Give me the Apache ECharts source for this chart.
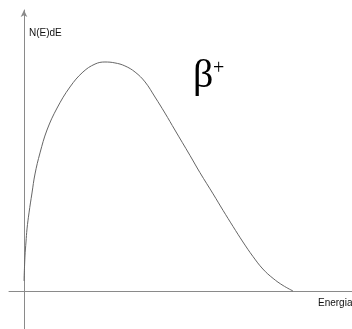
<!DOCTYPE html>
<html>
<head>
<meta charset="utf-8">
<script src="https://cdn.jsdelivr.net/npm/echarts@6/dist/echarts.min.js"></script>
<style>
  html, body { margin: 0; padding: 0; background: #fff; }
  #chart { width: 352px; height: 329px; }
</style>
</head>
<body>
<div id="chart"></div>
<script>
// Beta-plus energy spectrum: energy as a fraction of the endpoint energy,
// intensity normalised to the peak.
const energy = [0, 0.0037, 0.0074, 0.0112, 0.0186, 0.0297, 0.0409, 0.0595, 0.0855, 0.123,
  0.171, 0.219, 0.264, 0.301, 0.338, 0.375, 0.413, 0.450, 0.487, 0.524,
  0.561, 0.617, 0.654, 0.703, 0.740, 0.777, 0.814, 0.851, 0.888, 0.926, 0.963, 1.0];
const intensity = [0.044, 0.153, 0.214, 0.271, 0.341, 0.428, 0.511, 0.603, 0.703, 0.799,
  0.891, 0.956, 0.991, 1.0, 0.996, 0.983, 0.956, 0.913, 0.847, 0.777,
  0.703, 0.592, 0.517, 0.424, 0.352, 0.282, 0.214, 0.151, 0.096, 0.055, 0.024, 0];

const yName = 'N(E)dE';
const xName = 'Energia';

const points = energy.map((e, i) => [e, intensity[i]]);

const chart = echarts.init(document.getElementById('chart'), null, { renderer: 'canvas' });

const axisStyle = { color: '#8a8a8a', width: 1 };
const sans = 'Liberation Sans';
const serif = 'Liberation Serif';

chart.setOption({
  animation: false,
  backgroundColor: '#fff',
  grid: { left: 9, right: 0, top: 10, bottom: 0 },
  xAxis: {
    type: 'value',
    min: -0.05576,
    max: 1.21933,
    axisLine: { show: true, onZero: true, lineStyle: axisStyle },
    axisTick: { show: false },
    axisLabel: { show: false },
    splitLine: { show: false }
  },
  yAxis: {
    type: 'value',
    min: -0.16594,
    max: 1.22707,
    axisLine: {
      show: true, onZero: true, lineStyle: axisStyle,
      symbol: ['none', 'arrow'], symbolSize: [5, 7]
    },
    axisTick: { show: false },
    axisLabel: { show: false },
    splitLine: { show: false }
  },
  series: [{
    type: 'line',
    data: points,
    smooth: 0.4,
    showSymbol: false,
    lineStyle: { color: '#666', width: 1 }
  }],
  graphic: [
    {
      type: 'text', left: 29, top: 28,
      style: { text: yName, fontFamily: sans, fontSize: 10, fill: '#111' }
    },
    {
      type: 'text', left: 318, top: 298,
      style: { text: xName, fontFamily: sans, fontSize: 10, fill: '#111' }
    },
    {
      type: 'text', left: 193, top: 56,
      style: { text: 'β', fontFamily: serif, fontSize: 40, fill: '#000' }
    },
    {
      type: 'text', left: 213, top: 59,
      style: { text: '+', fontFamily: serif, fontSize: 20, fill: '#000' }
    }
  ]
});
</script>
</body>
</html>
